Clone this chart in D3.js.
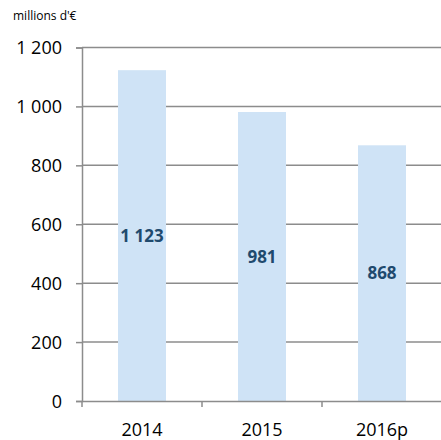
<!DOCTYPE html>
<html>
<head>
<meta charset="UTF-8">
<script src="https://cdn.jsdelivr.net/npm/d3@7"></script>
<style type="text/css">
body, html {
    margin: 0;
    background: #fff;
}
svg text {
    font-family: "Open Sans", sans-serif;
}
</style>
</head>
<body>
<div class="barGraph"></div>
<script type="text/javascript">
var categories = ["2014", "2015", "2016p"];
var values     = [1123, 981, 868];
var valueLabels = ["1 123", "981", "868"];
var yTicks     = [0, 200, 400, 600, 800, 1000, 1200];
var yTickLabels = ["0", "200", "400", "600", "800", "1 000", "1 200"];
var unitLabel  = "millions d'€";

var W = 441, H = 440,
    plotLeft = 82, plotRight = 442, plotTop = 47.5, plotBottom = 401;

var x = d3.scaleBand().domain(categories).range([plotLeft, plotRight]).paddingInner(0.6).paddingOuter(0.3),
    xb = d3.scaleBand().domain(categories).range([plotLeft, plotRight]),
    y = d3.scaleLinear().domain([0, 1200]).range([plotBottom, plotTop]);

var svg = d3.select(".barGraph")
    .append("svg")
    .attr("width", W)
    .attr("height", H);

var grey = "#8c8c8c";

// gridlines
svg.append("g")
    .selectAll("line")
    .data(yTicks.slice(1))
    .enter()
    .append("line")
    .attr("x1", plotLeft)
    .attr("x2", W)
    .attr("y1", function (d) { return y(d); })
    .attr("y2", function (d) { return y(d); })
    .attr("stroke", grey)
    .attr("stroke-width", 1.5);

// bars
svg.selectAll("rect.bar")
    .data(values)
    .enter()
    .append("rect")
    .attr("class", "bar")
    .attr("x", function (d, i) { return x(categories[i]); })
    .attr("width", x.bandwidth())
    .attr("y", function (d) { return y(d); })
    .attr("height", function (d) { return plotBottom - y(d); })
    .style("fill", "#cfe3f6");

// y axis
var yAxis = d3.axisLeft(y)
    .tickValues(yTicks)
    .tickSize(6)
    .tickPadding(14)
    .tickFormat(function (d, i) { return yTickLabels[i]; });

var gy = svg.append("g")
    .attr("transform", "translate(" + plotLeft + ",0)")
    .call(yAxis);
gy.select(".domain").attr("stroke", grey).attr("stroke-width", 1.5);
gy.selectAll(".tick line").attr("stroke", grey).attr("stroke-width", 1.5);
gy.selectAll(".tick text")
    .attr("fill", "#000")
    .style("font-size", "18px")
    .attr("dy", "0.35em");

// x axis
var xAxis = d3.axisBottom(xb)
    .tickSize(0)
    .tickPadding(22)
    .tickFormat(function (d) { return d; });

var gx = svg.append("g")
    .attr("transform", "translate(0," + plotBottom + ")")
    .call(xAxis);
gx.select(".domain").attr("stroke", grey).attr("stroke-width", 1.5);
gx.selectAll(".tick text")
    .attr("fill", "#000")
    .style("font-size", "18px");

// x tick marks at category boundaries
gx.selectAll("line.sep")
    .data(categories.concat([null]))
    .enter()
    .append("line")
    .attr("class", "sep")
    .attr("x1", function (d, i) { return plotLeft + i * xb.step(); })
    .attr("x2", function (d, i) { return plotLeft + i * xb.step(); })
    .attr("y1", 0)
    .attr("y2", 6)
    .attr("stroke", grey)
    .attr("stroke-width", 1.5);

// value labels
svg.selectAll("text.val")
    .data(values)
    .enter()
    .append("text")
    .attr("class", "val")
    .attr("x", function (d, i) { return x(categories[i]) + x.bandwidth() / 2; })
    .attr("y", function (d) { return y(d / 2); })
    .attr("dy", "0.36em")
    .attr("text-anchor", "middle")
    .style("font-size", "17px")
    .style("font-weight", "bold")
    .attr("fill", "#1f4a6e")
    .text(function (d, i) { return valueLabels[i]; });

// unit label
svg.append("text")
    .attr("x", 13)
    .attr("y", 20)
    .style("font-size", "12px")
    .attr("fill", "#000")
    .text(unitLabel);
</script>
</body>
</html>
